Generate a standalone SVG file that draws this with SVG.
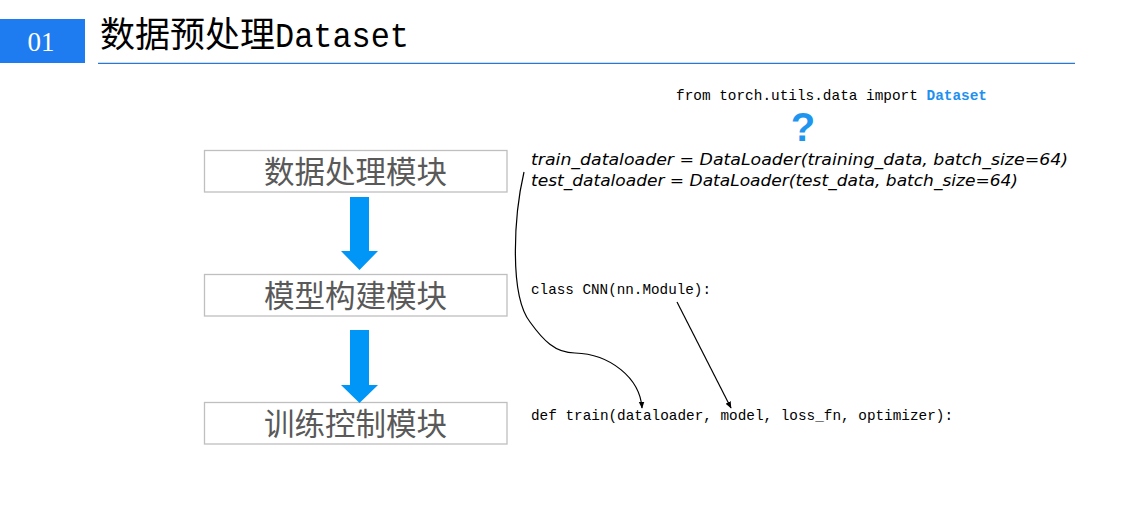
<svg xmlns="http://www.w3.org/2000/svg" width="1124" height="505" viewBox="0 0 1124 505">
<style>
.box{fill:#fff;stroke:#bfbfbf;stroke-width:1.3}
.btxt{font-family:"Noto Sans CJK SC","Noto Sans",sans-serif;font-size:30.5px;fill:#595959;text-anchor:middle}
.mono{font-family:"Liberation Mono","DejaVu Sans Mono",monospace;font-size:14.4px;fill:#000}
.hand{font-family:"DejaVu Sans","Liberation Sans",sans-serif;font-style:italic;font-size:16px;fill:#000}
.bigarrow{fill:#0096f8}
.conn{fill:none;stroke:#000;stroke-width:1.2}
</style>
<defs>
<marker id="ah" viewBox="0 0 10 10" refX="9" refY="5" markerWidth="7" markerHeight="7" orient="auto" markerUnits="userSpaceOnUse">
<path d="M0,1 L10,5 L0,9 z" fill="#000"/>
</marker>
</defs>
<rect width="1124" height="505" fill="#fff"/>
<g id="header">
<rect x="0" y="19" width="85" height="44" fill="#1e7bf0"/>
<text x="41" y="51" font-family="Liberation Serif,serif" font-size="27" fill="#fff" text-anchor="middle">01</text>
<text x="100" y="47" font-family="Noto Sans CJK SC,sans-serif" font-size="35" fill="#000">数据预处理<tspan font-family="Liberation Mono,monospace" textLength="134" lengthAdjust="spacingAndGlyphs">Dataset</tspan></text>
<line x1="98" y1="63.3" x2="1075" y2="63.3" stroke="#2a77d8" stroke-width="1.3"/>
</g>
<g id="node-data">
<rect class="box" x="204.5" y="150.5" width="302.5" height="41.5"/>
<text class="btxt" x="355.5" y="182.5">数据处理模块</text>
</g>
<g id="node-model">
<rect class="box" x="204.5" y="274.5" width="302.5" height="41.5"/>
<text class="btxt" x="355.5" y="306.5">模型构建模块</text>
</g>
<g id="node-train">
<rect class="box" x="204.5" y="402.5" width="302.5" height="41.5"/>
<text class="btxt" x="355.5" y="434.5">训练控制模块</text>
</g>
<g id="code-import">
<text class="mono" x="676" y="100" textLength="311" lengthAdjust="spacingAndGlyphs">from torch.utils.data import <tspan fill="#1e90f0" font-weight="bold">Dataset</tspan></text>
<text x="803" y="141" font-family="Liberation Sans,sans-serif" font-weight="bold" font-size="40" fill="#1e96f0" text-anchor="middle">?</text>
</g>
<g id="code-loaders">
<text class="hand" x="531" y="165" textLength="537" lengthAdjust="spacingAndGlyphs">train_dataloader = DataLoader(training_data, batch_size=64)</text>
<text class="hand" x="531" y="186" textLength="487" lengthAdjust="spacingAndGlyphs">test_dataloader = DataLoader(test_data, batch_size=64)</text>
</g>
<g id="code-cnn">
<text class="mono" x="531" y="294" textLength="180" lengthAdjust="spacingAndGlyphs">class CNN(nn.Module):</text>
</g>
<g id="code-train">
<text class="mono" x="531" y="420" textLength="422" lengthAdjust="spacingAndGlyphs">def train(dataloader, model, loss_fn, optimizer):</text>
</g>
<g id="connectors">
<path class="bigarrow" d="M350,197 H369 V251 H378 L359.5,270 L341,251 H350 Z"/>
<path class="bigarrow" d="M350,330 H369 V385 H378 L359.5,403 L341,385 H350 Z"/>
<path class="conn" marker-end="url(#ah)" d="M524,172 C514,215 509,295 530,322 C543,340 555,353 575,353 C610,354 640,378 642,408"/>
<line class="conn" marker-end="url(#ah)" x1="677" y1="302" x2="731" y2="408"/>
</g>
</svg>
